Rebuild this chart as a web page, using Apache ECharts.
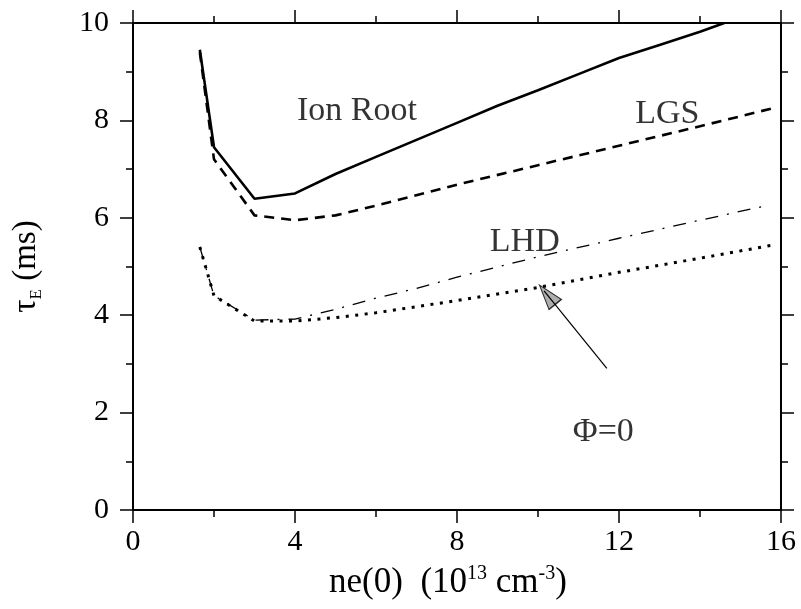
<!DOCTYPE html>
<html>
<head>
<meta charset="utf-8">
<script src="https://cdn.jsdelivr.net/npm/echarts@6/dist/echarts.min.js"></script>
<style>
html,body{margin:0;padding:0;background:#fff;}
#c{width:801px;height:609px;}
</style>
</head>
<body>
<div id="c"></div>
<script>
// ---- data ----
var ionX = [1.65, 2.0, 3.0, 4.0, 5.0, 6.0, 7.0, 8.0, 9.0, 10.0, 11.0, 12.0, 13.0, 14.0, 14.6];
var ionY = [9.45, 7.45, 6.39, 6.5, 6.9, 7.25, 7.6, 7.95, 8.3, 8.62, 8.95, 9.28, 9.55, 9.82, 10.0];

var lgsX = [1.65, 2.0, 3.0, 4.0, 5.0, 6.0, 8.0, 10.0, 12.0, 14.0, 15.8];
var lgsY = [9.4, 7.2, 6.05, 5.95, 6.05, 6.25, 6.68, 7.08, 7.48, 7.88, 8.25];

var lhdX = [1.65, 2.0, 3.0, 4.0, 5.0, 6.0, 7.0, 8.0, 9.0, 10.0, 12.0, 14.0, 15.7];
var lhdY = [5.4, 4.4, 3.9, 3.92, 4.12, 4.35, 4.55, 4.78, 4.99, 5.2, 5.58, 5.95, 6.26];

var phiX = [1.65, 2.0, 3.0, 4.0, 5.0, 6.0, 8.0, 10.0, 12.0, 14.0, 15.8];
var phiY = [5.4, 4.4, 3.88, 3.88, 3.95, 4.05, 4.3, 4.57, 4.88, 5.17, 5.44];

// annotation texts and their anchor positions (data units)
var labelText = ['Ion Root', 'LGS', 'LHD', 'Φ=0'];
var labelX = [4.05, 12.4, 8.81, 10.86];
var labelY = [8.2, 8.14, 5.5, 1.6];

// arrow (tail -> tip) and arrowhead centre
var arrowX = [11.7, 10.15];
var arrowY = [2.91, 4.5];
var headX = [10.23];
var headY = [4.42];

var xTicks = {min: 0, max: 16, interval: 4};
var yTicks = {min: 0, max: 10, interval: 2};

function pairs(xs, ys) { return xs.map(function (x, i) { return [x, ys[i]]; }); }

var FONT = '"Liberation Serif", "DejaVu Serif", serif';
var axisLineStyle = {color: '#000', width: 2};

function makeX(pos, showLabel) {
  return {
    type: 'value', position: pos,
    min: xTicks.min, max: xTicks.max, interval: xTicks.interval,
    axisLine: {show: true, onZero: false, lineStyle: axisLineStyle},
    axisTick: {show: true, inside: false, length: 13, lineStyle: {color: '#000', width: 1.5}},
    minorTick: {show: true, splitNumber: 2, length: 7, lineStyle: {color: '#000', width: 1.5}},
    splitLine: {show: false},
    axisLabel: {show: showLabel, fontFamily: FONT, fontSize: 30, color: '#000', margin: 17},
    name: showLabel ? '{a|ne(0)  (10}{s|13}{a| cm}{s|-3}{a|)}' : '',
    nameLocation: 'middle', nameGap: 54,
    nameTextStyle: {
      fontFamily: FONT, color: '#000', padding: [0, 18, 0, 0],
      rich: {
        a: {fontFamily: FONT, fontSize: 35, color: '#000', lineHeight: 38},
        s: {fontFamily: FONT, fontSize: 20, color: '#000', verticalAlign: 'top', lineHeight: 38}
      }
    }
  };
}
function makeY(pos, showLabel) {
  return {
    type: 'value', position: pos,
    min: yTicks.min, max: yTicks.max, interval: yTicks.interval,
    axisLine: {show: true, onZero: false, lineStyle: axisLineStyle},
    axisTick: {show: true, inside: false, length: 13, lineStyle: {color: '#000', width: 1.5}},
    minorTick: {show: true, splitNumber: 2, length: 7, lineStyle: {color: '#000', width: 1.5}},
    splitLine: {show: false},
    axisLabel: {show: showLabel, fontFamily: FONT, fontSize: 30, color: '#000', margin: 24},
    name: showLabel ? '{a|τ}{b|E}{a| (ms)}' : '',
    nameLocation: 'middle', nameGap: 88,
    nameTextStyle: {
      fontFamily: FONT, color: '#000',
      rich: {
        a: {fontFamily: FONT, fontSize: 33, color: '#000', lineHeight: 38},
        b: {fontFamily: FONT, fontSize: 17, color: '#000', verticalAlign: 'bottom', lineHeight: 38}
      }
    }
  };
}

var chart = echarts.init(document.getElementById('c'), null, {renderer: 'canvas'});
chart.setOption({
  animation: false,
  backgroundColor: '#fff',
  grid: {left: 133, right: 20, top: 23, bottom: 99, containLabel: false},
  xAxis: [makeX('bottom', true), makeX('top', false)],
  yAxis: [makeY('left', true), makeY('right', false)],
  series: [
    {name: 'Ion Root', type: 'line', data: pairs(ionX, ionY), showSymbol: false,
     lineStyle: {color: '#000', width: 2.6, type: 'solid'}},
    {name: 'LGS', type: 'line', data: pairs(lgsX, lgsY), showSymbol: false,
     lineStyle: {color: '#000', width: 2.6, type: [10, 7]}},
    {name: 'LHD', type: 'line', data: pairs(lhdX, lhdY), showSymbol: false,
     lineStyle: {color: '#000', width: 1.3, type: [13, 9, 2, 9]}},
    {name: 'Phi0', type: 'line', data: pairs(phiX, phiY), showSymbol: false,
     lineStyle: {color: '#000', width: 3, type: [3, 6.5]}},
    {name: 'arrow', type: 'line', data: pairs(arrowX, arrowY), showSymbol: false,
     lineStyle: {color: '#000', width: 1.2}},
    {name: 'head', type: 'scatter', data: pairs(headX, headY), symbol: 'triangle',
     symbolSize: [16, 25], symbolRotate: 39,
     itemStyle: {color: '#9a9a9a', borderColor: '#000', borderWidth: 1.2}},
    {name: 'labels', type: 'scatter', symbolSize: 0,
     data: labelX.map(function (x, i) { return {value: [x, labelY[i]], name: labelText[i]}; }),
     label: {show: true, position: 'right', distance: 0, formatter: '{b}',
             fontFamily: FONT, fontSize: 34, color: '#000'}}
  ]
});
</script>
</body>
</html>
